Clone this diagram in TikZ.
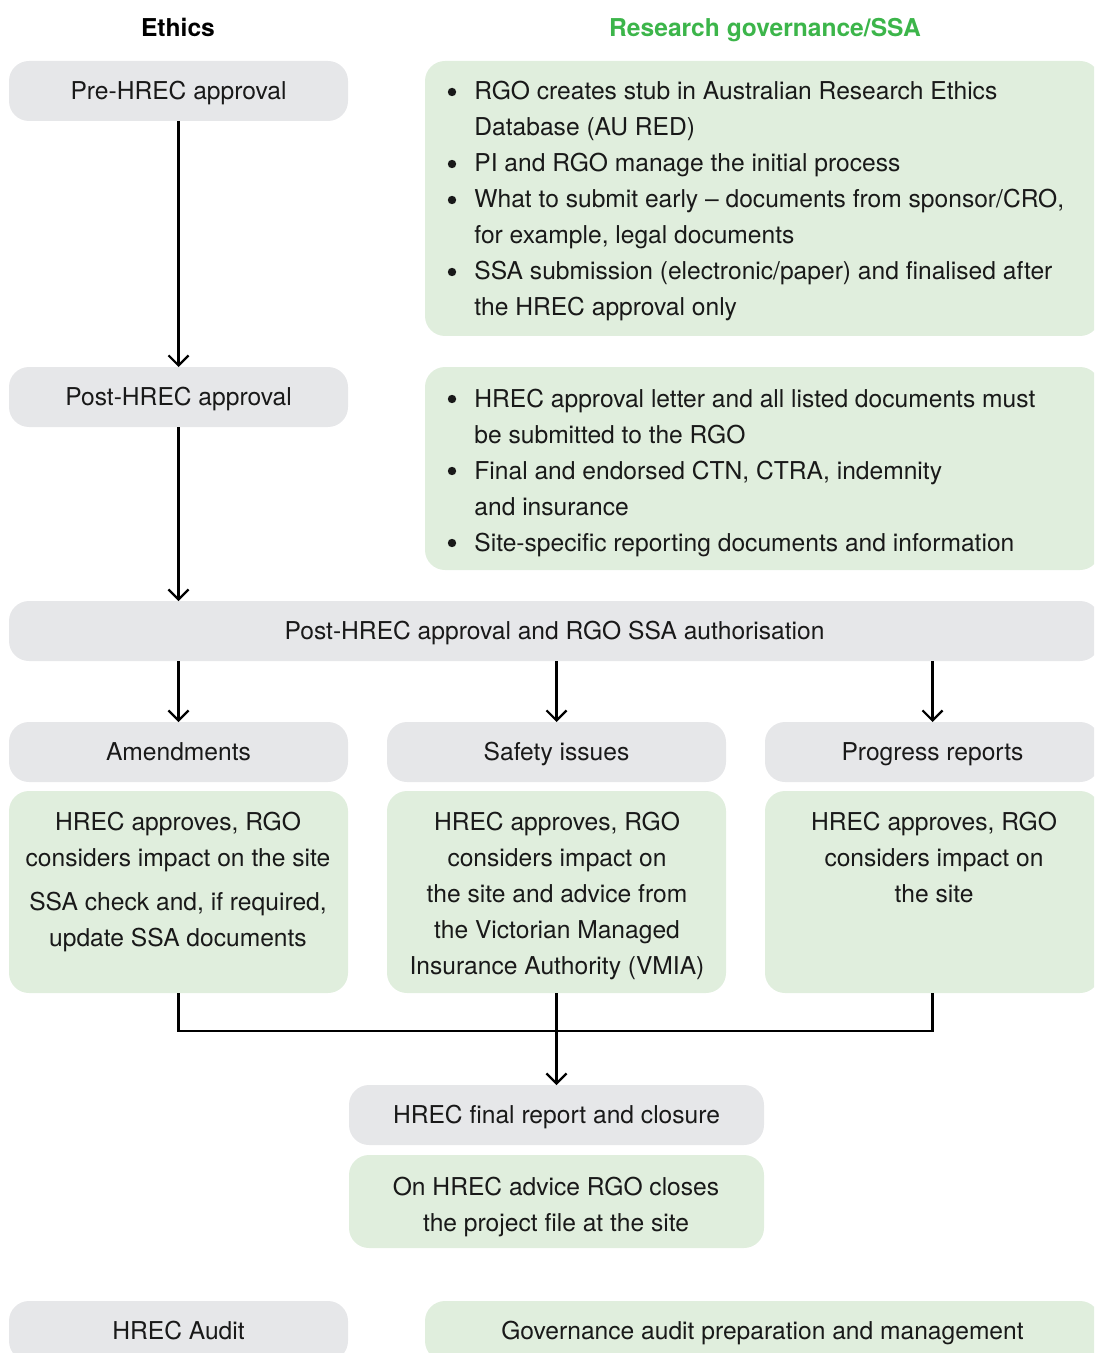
\documentclass[tikz,border=0pt]{standalone}
\usepackage{fontspec}
\setmainfont{TeX Gyre Heros}
\usetikzlibrary{arrows.meta}
\definecolor{boxgray}{HTML}{E6E7E9}
\definecolor{boxgreen}{HTML}{E0EEDD}
\definecolor{headgreen}{HTML}{3CB54A}

% a rounded panel spanning (x1,y1)-(x2,y2): style, name, x1, y1, x2, y2
\newcommand\panel[7][]{%
  \node[#2, anchor=north west, minimum width={(#5-#3)*0.5pt},
        minimum height={(#6-#4)*0.5pt}] (#7) at (#3,#4) {#1};}
% one line of text, its baseline at the given point
\newcommand\lineat[4][base]{\node[txt, anchor=#1] (#2) at (#3) {#4};}
% a bullet dot and the first line of its item (second argument: baseline)
\newcommand\itemat[3]{%
  \node[dot] (#1m) at (452,#2-8) {};
  \node[txt, anchor=base west] (#1) at (474,#2) {#3};}

\begin{document}
\begin{tikzpicture}[x=0.5pt, y=-0.5pt,
  font=\fontsize{12.3}{18}\selectfont,
  panelbase/.style={rounded corners=10pt, inner sep=0pt, outer sep=0pt,
                    text height=8.8pt, text depth=0pt, text=black!90},
  graybox/.style={panelbase, fill=boxgray},
  greenbox/.style={panelbase, fill=boxgreen},
  txt/.style={inner sep=0pt, text=black!90, yshift=-1pt},
  dot/.style={circle, fill=black!90, inner sep=0pt, minimum size=4.2pt, yshift=-1pt},
  head/.style={inner sep=0pt, anchor=base, font=\fontsize{12.3}{14}\selectfont\bfseries},
  flow/.style={line width=1.1pt, draw=black},
  tip/.style={-{Straight Barb[length=5pt, width=10pt, line width=1.1pt]}}]
\useasboundingbox (0,0) rectangle (1094,1353);
\clip (0,0) rectangle (1094,1353);

% column headings
\node[head] (hEth) at (178,37) {Ethics};
\node[head, text=headgreen] (hRG) at (765,37) {Research governance/SSA};

% ethics steps and their governance notes
\panel[Pre-HREC approval]{graybox}{9}{61}{348}{121}{pre}
\panel{greenbox}{425}{61}{1100}{336}{preg}
\itemat{pa}{98}{RGO creates stub in Australian Research Ethics}
\lineat[base west]{pb}{474,134}{Database (AU RED)}
\itemat{pc}{170}{PI and RGO manage the initial process}
\itemat{pd}{206}{What to submit early – documents from sponsor/CRO,}
\lineat[base west]{pe}{474,242}{for example, legal documents}
\itemat{pf}{278}{SSA submission (electronic/paper) and finalised after}
\lineat[base west]{pg}{474,314}{the HREC approval only}

\panel[Post-HREC approval]{graybox}{9}{367}{348}{427}{post}
\panel{greenbox}{425}{367}{1100}{570}{postg}
\itemat{qa}{405}{HREC approval letter and all listed documents must}
\lineat[base west]{qb}{474,441}{be submitted to the RGO}
\itemat{qc}{477}{Final and endorsed CTN, CTRA, indemnity}
\lineat[base west]{qd}{474,513}{and insurance}
\itemat{qe}{549}{Site-specific reporting documents and information}

\panel[Post-HREC approval and RGO SSA authorisation]{graybox}{9}{601}{1100}{661}{auth}

% the three ongoing streams
\panel[Amendments]{graybox}{9}{722}{348}{782}{am}
\panel[Safety issues]{graybox}{387}{722}{726}{782}{sf}
\panel[Progress reports]{graybox}{765}{722}{1100}{782}{pr}

\panel{greenbox}{9}{791}{348}{993}{amg}
\lineat{amA}{178,828}{HREC approves, RGO}
\lineat{amB}{178,864}{considers impact on the site}
\lineat{amC}{178,908}{SSA check and, if required,}
\lineat{amD}{178,944}{update SSA documents}

\panel{greenbox}{387}{791}{726}{993}{sfg}
\lineat{sfA}{557,828}{HREC approves, RGO}
\lineat{sfB}{557,864}{considers impact on}
\lineat{sfC}{557,900}{the site and advice from}
\lineat{sfD}{557,936}{the Victorian Managed}
\lineat{sfE}{557,972}{Insurance Authority (VMIA)}

\panel{greenbox}{765}{791}{1100}{993}{prg}
\lineat{prA}{934,828}{HREC approves, RGO}
\lineat{prB}{934,864}{considers impact on}
\lineat{prC}{934,900}{the site}

% closure
\panel[HREC final report and closure]{graybox}{349}{1085}{764}{1145}{fin}
\panel{greenbox}{349}{1155}{764}{1248}{fing}
\lineat{fA}{556,1193}{On HREC advice RGO closes}
\lineat{fB}{556,1229}{the project file at the site}

% audits
\panel[HREC Audit]{graybox}{9}{1301}{348}{1361}{aud}
\panel[Governance audit preparation and management]{greenbox}{425}{1301}{1100}{1361}{audg}

% connectors
\draw[flow, tip] (pre.south) -- (post.north);
\draw[flow, tip] (post.south) -- (post.south |- auth.north);
\draw[flow, tip] (am.north |- auth.south) -- (am.north);
\draw[flow, tip] (sf.north |- auth.south) -- (sf.north);
\draw[flow, tip] (pr.north |- auth.south) -- (pr.north);
\draw[flow] (amg.south) -- ++(0,38) -| (prg.south);
\draw[flow, tip] (sfg.south) -- (fin.north);
\end{tikzpicture}
\end{document}
